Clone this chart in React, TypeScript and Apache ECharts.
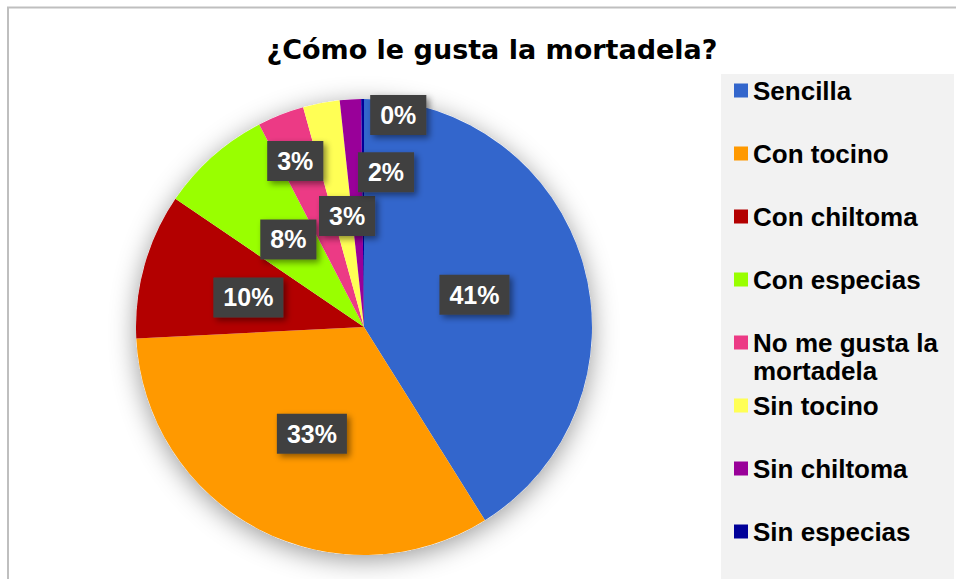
import React, { useEffect, useRef } from 'react';
import * as echarts from 'echarts';

const TITLE = '¿Cómo le gusta la mortadela?';
const CATEGORIES = [
  'Sencilla',
  'Con tocino',
  'Con chiltoma',
  'Con especias',
  'No me gusta la mortadela',
  'Sin tocino',
  'Sin chiltoma',
  'Sin especias',
];
const VALUES = [41.1, 33.1, 10.3, 7.9, 3.3, 2.6, 1.5, 0.2];
const COLORS = ['#3366CC', '#FF9900', '#B30000', '#99FF00', '#EC3A85', '#FFFF55', '#990099', '#000099'];

// label nudges (layout only)
const LABEL_NUDGE = [
  [-2, 0], [2, 3], [-3, 2], [2, 0], [-26, -57], [5, 4], [29, -38], [35, -95],
];

const FONT = '"Liberation Sans", Arial, sans-serif';

export default function App() {
  const ref = useRef<HTMLDivElement>(null);
  useEffect(() => {
    document.body.style.margin = '0';
    const chart = echarts.init(ref.current!, undefined, { renderer: 'svg' });

    const legends = CATEGORIES.map((name, i) => {
      const center = 90.5 + i * 63;
      const twoLine = name.length > 20;
      return {
        data: [name],
        orient: 'vertical',
        left: 734,
        top: twoLine ? center - 42 : center - 14,
        padding: 0,
        itemWidth: 14,
        itemHeight: 14,
        icon: 'rect',
        selectedMode: false,
        formatter: (n: string) => (twoLine ? '\n' + n : n),
        textStyle: {
          fontFamily: FONT,
          fontWeight: 'bold',
          fontSize: 26,
          lineHeight: 28,
          color: '#000',
          width: 200,
          overflow: 'break',
        },
      };
    });

    chart.setOption({
      animation: false,
      backgroundColor: '#fff',
      color: COLORS,
      title: {
        text: TITLE,
        left: 492,
        textAlign: 'center',
        top: 36,
        padding: 0,
        textStyle: {
          fontFamily: '"DejaVu Sans", sans-serif',
          fontWeight: 'bold',
          fontSize: 27,
          color: '#000',
        },
      },
      graphic: [
        {
          type: 'rect',
          shape: { x: 8, y: 7.5, width: 1200, height: 1200 },
          style: { fill: '#fff', stroke: '#BFBFBF', lineWidth: 2 },
          silent: true,
          z: -10,
        },
        {
          type: 'rect',
          shape: { x: 721, y: 74, width: 233, height: 505 },
          style: { fill: '#F2F2F2' },
          silent: true,
          z: -9,
        },
      ],
      legend: legends,
      series: [
        {
          type: 'pie',
          name: 'sombra',
          center: [364, 327],
          radius: 228,
          silent: true,
          z: 1,
          label: { show: false },
          labelLine: { show: false },
          itemStyle: {
            color: '#fff',
            shadowBlur: 26,
            shadowOffsetY: 5,
            shadowColor: 'rgba(0,0,0,0.4)',
          },
          data: [{ value: 1, name: '_bg' }],
        },
        {
          type: 'pie',
          name: TITLE,
          center: [364, 327],
          radius: 228,
          startAngle: 90,
          clockwise: true,
          z: 2,
          avoidLabelOverlap: false,
          itemStyle: { borderWidth: 0 },
          label: {
            show: true,
            position: 'inside',
            formatter: (p: any) => Math.round(p.percent) + '%',
            fontFamily: FONT,
            fontWeight: 'bold',
            fontSize: 25,
            lineHeight: 26,
            color: '#fff',
            backgroundColor: '#404040',
            padding: [7, 10],
            shadowColor: 'rgba(0,0,0,0.45)',
            shadowBlur: 6,
            shadowOffsetX: 3,
            shadowOffsetY: 3,
          },
          labelLine: { show: false },
          labelLayout: (params: any) => {
            const n = LABEL_NUDGE[params.dataIndex] || [0, 0];
            return { dx: n[0], dy: n[1] };
          },
          data: CATEGORIES.map((name, i) => ({
            name,
            value: VALUES[i],
            itemStyle: { color: COLORS[i] },
          })),
        },
      ],
    });
    return () => chart.dispose();
  }, []);
  return <div ref={ref} style={{ width: 956, height: 579 }} />;
}
